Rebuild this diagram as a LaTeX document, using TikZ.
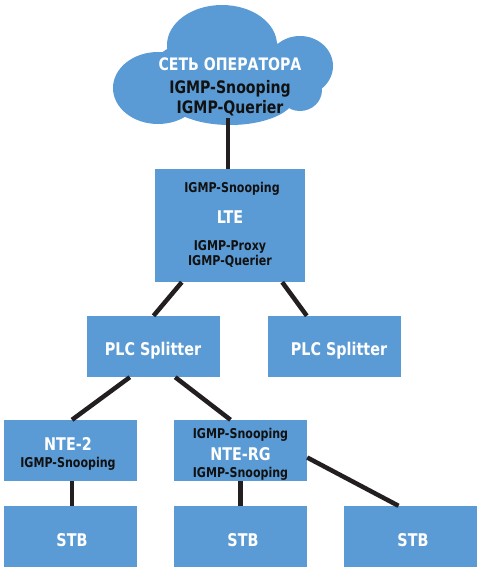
\documentclass[tikz,border=0pt]{standalone}
\usepackage{fontspec}
\setmainfont{DejaVu Sans}[FakeStretch=0.82]
\usetikzlibrary{calc}
\definecolor{boxblue}{HTML}{5B9BD5}
\definecolor{linkc}{HTML}{231F20}
\definecolor{txtc}{HTML}{111111}
\tikzset{
  devbox/.style={fill=boxblue, draw=none, inner sep=0pt},
  link/.style={draw=linkc, line width=4.5pt},
  wt/.style={text=white, font=\bfseries\fontsize{17.5}{19}\selectfont, anchor=base, inner sep=0pt},
  bk/.style={text=txtc, font=\bfseries\fontsize{13.5}{15}\selectfont, anchor=base, inner sep=0pt},
  bkl/.style={text=txtc, font=\bfseries\fontsize{17.2}{19}\selectfont, anchor=base, inner sep=0pt},
  wtl/.style={text=white, font=\bfseries\fontsize{17.2}{19}\selectfont, anchor=base, inner sep=0pt},
}
\begin{document}
\begin{tikzpicture}[x=1pt,y=-1pt]
\useasboundingbox (0,0) rectangle (481,579);
% cloud
\fill[boxblue] (222,45) ellipse [x radius=55, y radius=40];
\fill[boxblue] (300,66) ellipse [x radius=33, y radius=30];
\fill[boxblue] (158,88) ellipse [x radius=45, y radius=36];
\fill[boxblue] (230,96) ellipse [x radius=65, y radius=29];
\fill[boxblue] (300,90) ellipse [x radius=22, y radius=21];
\fill[boxblue] (228,75) ellipse [x radius=80, y radius=40];
\coordinate (cloudbot) at (228,118);

% boxes
\node[devbox, minimum width=150pt, minimum height=113pt] (lte) at (230,225.5) {};
\node[devbox, minimum width=133pt, minimum height=61pt] (plc1) at (153.5,346.5) {};
\node[devbox, minimum width=133pt, minimum height=61pt] (plc2) at (334.5,346.5) {};
\node[devbox, minimum width=133pt, minimum height=61pt] (nte2) at (70.5,450.5) {};
\node[devbox, minimum width=133pt, minimum height=61pt] (ntrg) at (240.5,450.5) {};
\node[devbox, minimum width=133pt, minimum height=61pt] (stb1) at (70.5,536.5) {};
\node[devbox, minimum width=133pt, minimum height=61pt] (stb2) at (240.5,536.5) {};
\node[devbox, minimum width=133pt, minimum height=61pt] (stb3) at (410.5,536.5) {};

% connectors
\draw[link] (cloudbot) -- (cloudbot |- lte.north);
\draw[link] ($(lte.south west)+(27,0)$) -- (plc1.north);
\draw[link] ($(lte.south east)+(-23,0)$) -- ($(plc2.north west)+(39,0)$);
\draw[link] ($(plc1.south west)+(43,0)$) -- ($(nte2.north)+(1.5,0)$);
\draw[link] ($(plc1.south east)+(-45,0)$) -- ($(ntrg.north)+(-10,0)$);
\draw[link] ($(nte2.south)+(1.5,0)$) -- ($(stb1.north)+(1.5,0)$);
\draw[link] (ntrg.south) -- (stb2.north);
\draw[link] ($(ntrg.east)+(0,7)$) -- ($(stb3.north)+(-12,0)$);

% texts
\node[wtl] (t0) at (230,70) {СЕТЬ ОПЕРАТОРА};
\node[bkl] (t1) at (230,93) {IGMP-Snooping};
\node[bkl] (t2) at (230,113) {IGMP-Querier};

\node[bk] (t3) at (232,192) {IGMP-Snooping};
\node[wt] (t4) at (230,223) {LTE};
\node[bk] (t5) at (230,250) {IGMP-Proxy};
\node[bk] (t6) at (230,265) {IGMP-Querier};

\node[wt] (t7) at (153,355) {PLC Splitter};
\node[wt] (t8) at (339,355) {PLC Splitter};

\node[wt] (t9) at (68,450) {NTE-2};
\node[bk] (t10) at (68,467) {IGMP-Snooping};
\node[bk] (t11) at (240.5,438) {IGMP-Snooping};
\node[wt] (t12) at (240.5,460) {NTE-RG};
\node[bk] (t13) at (240.5,477) {IGMP-Snooping};

\node[wt] (t14) at (72,546) {STB};
\node[wt] (t15) at (243,546) {STB};
\node[wt] (t16) at (413,546) {STB};
\end{tikzpicture}
\end{document}
